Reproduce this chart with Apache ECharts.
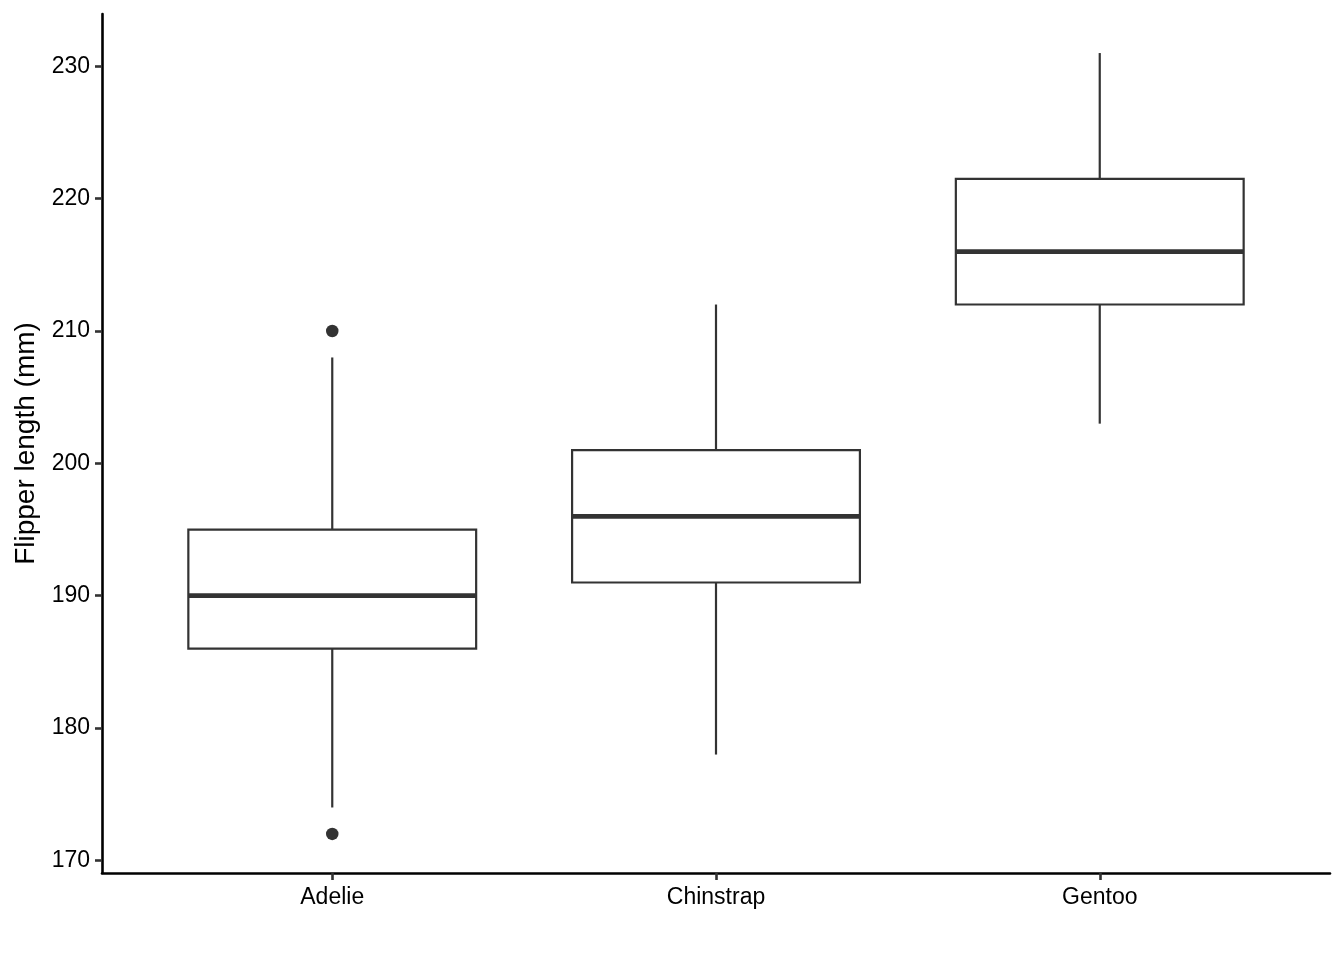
<!DOCTYPE html>
<html>
<head>
<meta charset="utf-8">
<script src="https://cdn.jsdelivr.net/npm/echarts@6/dist/echarts.min.js"></script>
<style>
  html, body { margin: 0; padding: 0; background: #fff; }
  #main { width: 1344px; height: 960px; }
</style>
</head>
<body>
<div id="main"></div>
<script>
// flipper length per species (mm)
const species = ['Adelie', 'Chinstrap', 'Gentoo'];
const lowerWhisker = [174, 178, 203];
const q1 = [186, 191, 212];
const median = [190, 196, 216];
const q3 = [195, 201, 221.5];
const upperWhisker = [208, 212, 231];
const outlierSpecies = ['Adelie', 'Adelie'];
const outlierValues = [210, 172];
const yTicks = [170, 180, 190, 200, 210, 220, 230];

const boxData = species.map((s, i) => [i + 1, lowerWhisker[i], q1[i], median[i], q3[i], upperWhisker[i]]);
const outlierData = outlierSpecies.map((s, i) => [species.indexOf(s) + 1, outlierValues[i]]);

const ink = '#333333';
const font = '"Liberation Sans", Arial, Helvetica, sans-serif';
const halfBox = 0.375;

// ggplot style box: no whisker caps, thick median
const renderBox = (params, api) => {
    const x = api.value(0);
    const lo = api.coord([x, api.value(1)]);
    const b1 = api.coord([x, api.value(2)]);
    const md = api.coord([x, api.value(3)]);
    const b3 = api.coord([x, api.value(4)]);
    const hi = api.coord([x, api.value(5)]);
    const xl = api.coord([x - halfBox, api.value(3)])[0];
    const xr = api.coord([x + halfBox, api.value(3)])[0];
    const thin = { stroke: ink, lineWidth: 2.2, fill: null };
    return {
        type: 'group',
        children: [
            { type: 'line', shape: { x1: lo[0], y1: lo[1], x2: b1[0], y2: b1[1] }, style: thin },
            { type: 'line', shape: { x1: b3[0], y1: b3[1], x2: hi[0], y2: hi[1] }, style: thin },
            { type: 'rect', shape: { x: xl, y: b3[1], width: xr - xl, height: b1[1] - b3[1] },
              style: { fill: '#ffffff', stroke: ink, lineWidth: 2.2 } },
            { type: 'line', shape: { x1: xl, y1: md[1], x2: xr, y2: md[1] },
              style: { stroke: ink, lineWidth: 4.8 } }
        ]
    };
};

const chart = echarts.init(document.getElementById('main'));
chart.setOption({
    animation: false,
    backgroundColor: '#ffffff',
    grid: { left: 102, right: 14, top: 14, bottom: 87 },
    xAxis: {
        type: 'value',
        min: 0.4,
        max: 3.6,
        splitLine: { show: false },
        axisLine: { lineStyle: { color: '#000', width: 2.6 } },
        axisTick: { customValues: [1, 2, 3], length: 7, lineStyle: { color: ink, width: 2.6 } },
        axisLabel: {
            customValues: [1, 2, 3],
            formatter: v => species[Math.round(v) - 1] || '',
            color: '#000', fontSize: 23, fontFamily: font, margin: 13
        }
    },
    yAxis: {
        type: 'value',
        min: 169.05,
        max: 233.95,
        name: 'Flipper length (mm)',
        nameLocation: 'middle',
        nameGap: 61,
        nameTextStyle: { color: '#000', fontSize: 28, fontFamily: font },
        splitLine: { show: false },
        axisLine: { lineStyle: { color: '#000', width: 2.6 } },
        axisTick: { customValues: yTicks, length: 7, lineStyle: { color: ink, width: 2.6 } },
        axisLabel: { customValues: yTicks, color: '#000', fontSize: 23, fontFamily: font, margin: 12 }
    },
    series: [
        {
            type: 'custom',
            renderItem: renderBox,
            encode: { x: 0, y: [1, 2, 3, 4, 5] },
            data: boxData,
            silent: true
        },
        {
            type: 'scatter',
            data: outlierData,
            symbolSize: 12.5,
            itemStyle: { color: ink, opacity: 1 },
            silent: true
        }
    ]
});
</script>
</body>
</html>
